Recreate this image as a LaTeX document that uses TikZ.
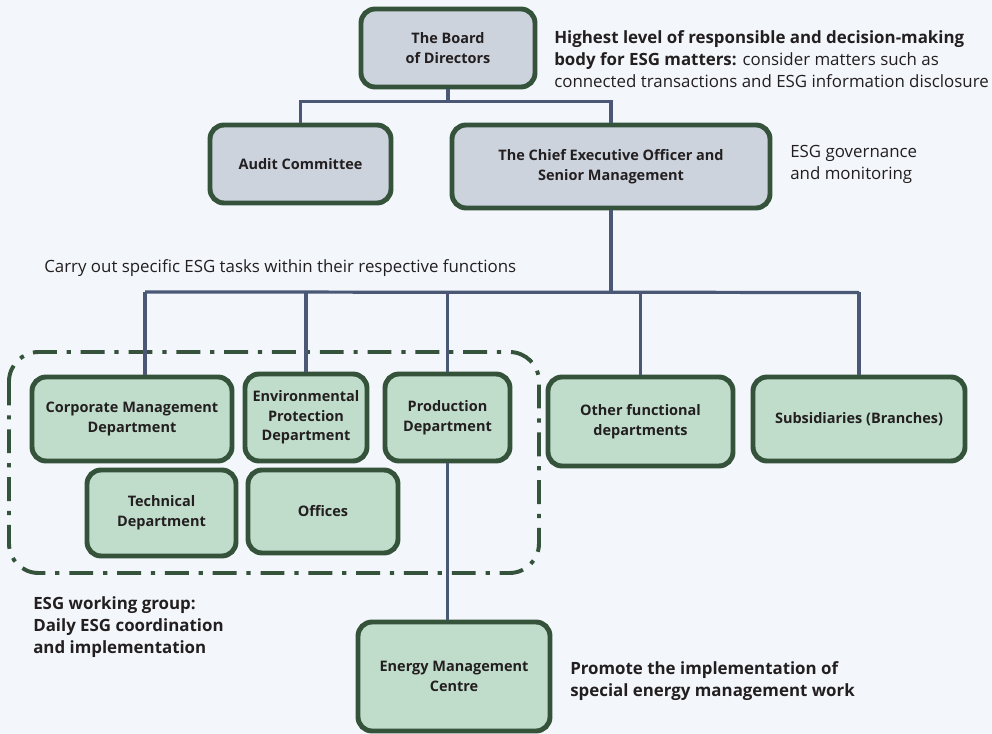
\documentclass[tikz,border=0pt]{standalone}
\usepackage{fontspec}
\setmainfont{Open Sans}
\definecolor{bg}{HTML}{F3F6FA}
\definecolor{topfill}{HTML}{CCD3DD}
\definecolor{unitfill}{HTML}{C0DCCB}
\definecolor{boxline}{HTML}{34533A}
\definecolor{linkcol}{HTML}{4B5875}
\definecolor{txt}{HTML}{231F20}
\newcommand{\boxfont}{\fontsize{10.3}{14}\selectfont\bfseries}
\newcommand{\notefont}{\fontsize{12}{15.6}\selectfont}
\tikzset{
  box/.style={draw=boxline, line width=3.5pt, rounded corners=10pt, align=center,
    font=\boxfont, text=txt, inner sep=2pt},
  topbox/.style={box, fill=topfill},
  unitbox/.style={box, fill=unitfill},
  boxsize/.style 2 args={minimum width=#1*0.025cm, minimum height=#2*0.025cm},
  link/.style={draw=linkcol, line width=2.3pt},
  note/.style={anchor=west, align=left, font=\notefont, text=txt, inner sep=0pt},
  group/.style={draw=boxline, line width=2.8pt, rounded corners=21pt,
    dash pattern=on 17pt off 7pt on 3pt off 7pt},
}
\begin{document}
\begin{tikzpicture}[x=0.025cm, y=-0.025cm]
  \fill[bg] (0,0) rectangle (992,734);

  % top level
  \node[topbox, boxsize={174}{78}] (board) at (448,48) {The Board\\of Directors};
  \node[topbox, boxsize={181}{78}] (audit) at (300.5,164) {Audit Committee};
  \node[topbox, boxsize={318}{83}] (ceo) at (611,166.5) {The Chief Executive Officer and\\Senior Management};

  % units
  \node[unitbox, boxsize={200}{84}] (corp) at (132,419) {Corporate Management\\Department};
  \node[unitbox, boxsize={122}{87}] (env) at (306,417.5) {Environmental\\Protection\\Department};
  \node[unitbox, boxsize={125}{87}] (prod) at (447.5,417.5) {Production\\Department};
  \node[unitbox, boxsize={149}{86}] (tech) at (161.5,513) {Technical\\Department};
  \node[unitbox, boxsize={150}{83}] (offices) at (323,511.5) {Offices};
  \node[unitbox, boxsize={185}{89}] (other) at (640.5,421.5) {Other functional\\departments};
  \node[unitbox, boxsize={212}{84}] (subs) at (859,419) {Subsidiaries (Branches)};
  \node[unitbox, boxsize={192}{109}] (energy) at (454,676.5) {Energy Management\\Centre};

  % working group frame
  \draw[group] (9,352) rectangle (539,573);

  % connectors
  \draw[link] (board.south) -- ++(0,12) coordinate (j1);
  \draw[link] (audit.north) |- (j1) -| (ceo.north);
  \draw[link] (ceo.south) -- ++(0,82) coordinate (j2);
  \coordinate (d1) at (145,292);
  \draw[link] (d1) -- (j2 -| subs.north);
  \draw[link] (d1) -- (d1 |- corp.north);
  \draw[link] (env.north |- d1) -- (env.north);
  \draw[link] (prod.north |- d1) -- (prod.north);
  \draw[link] (other.north |- d1) -- (other.north);
  \draw[link] (subs.north |- d1) -- (subs.north);
  \draw[link] (prod.south) -- (prod.south |- energy.north);

  % notes
  \node[note] (n1) at (554,59) {\textbf{Highest level of responsible and decision-making}\\
    \textbf{body for ESG matters:} consider matters such as\\
    connected transactions and ESG information disclosure};
  \node[note] (n2) at (790,164) {ESG governance\\and monitoring};
  \node[note] (n3) at (44,268) {Carry out specific ESG tasks within their respective functions};
  \node[note, font=\notefont\bfseries] (n4) at (33,627) {ESG working group:\\Daily ESG coordination\\and implementation};
  \node[note, font=\notefont\bfseries] (n5) at (570,681) {Promote the implementation of\\special energy management work};
\end{tikzpicture}
\end{document}
